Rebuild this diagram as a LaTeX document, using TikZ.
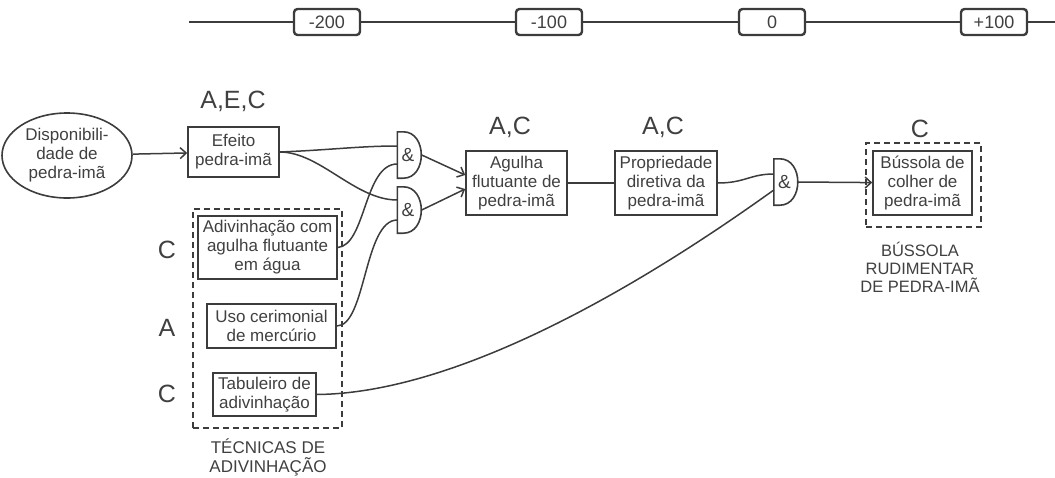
\documentclass[tikz,border=0pt]{standalone}
\usepackage{fontspec}
\setmainfont{Liberation Sans}
\usetikzlibrary{arrows.meta,shapes.geometric,calc}
\definecolor{ink}{RGB}{60,60,60}
\definecolor{txt}{RGB}{64,64,64}
\begin{document}
\begin{tikzpicture}[x=1pt,y=-1pt,
  every node/.style={text=txt},
  box/.style={draw=ink,line width=1.6pt,inner sep=0pt,align=center,font=\fontsize{17}{19}\selectfont},
  tick/.style={draw=ink,line width=2.4pt,rounded corners=3.5pt,fill=white,minimum width=66pt,minimum height=26pt,inner sep=0pt,font=\fontsize{18}{20}\selectfont},
  big/.style={font=\fontsize{25}{28}\selectfont,inner sep=0pt},
  grp/.style={draw=ink,line width=1.6pt,dash pattern=on 6pt off 4pt,inner sep=0pt},
  capt/.style={align=center,inner sep=0pt},
  wire/.style={draw=ink,line width=1.5pt},
  arr/.style={wire,-{Straight Barb[length=6pt,width=11pt,line width=1.5pt]}},
  gate/.style={minimum width=24pt,minimum height=46pt,inner sep=0pt,font=\fontsize{19}{20}\selectfont},
]
\useasboundingbox (0,0) rectangle (1055,477);

% timeline
\coordinate (tls) at (189,22);
\coordinate (tle) at (1056,22);
\node[tick] (t1) at (327,22) {-200};
\node[tick] (t2) at (549,22) {-100};
\node[tick] (t3) at (772,22) {0};
\node[tick] (t4) at (994,22) {+100};
\draw[wire,line width=1.8pt] (tls) -- (t1) -- (t2) -- (t3) -- (t4) -- (tle);

% groups
\node[grp,minimum width=149pt,minimum height=219pt] (tec) at (267.5,318.5) {};
\node[grp,minimum width=115pt,minimum height=84pt] (bgrp) at (923.5,185) {};

% nodes
\node[box,ellipse,minimum width=130pt,minimum height=85pt] (disp) at (67,155.5) {Disponibili-\\dade de\\pedra-imã};
\node[box,minimum width=91pt,minimum height=50pt] (efeito) at (233.5,152) {Efeito\\pedra-imã};
\node[box,minimum width=139pt,minimum height=63pt] (adiv) at (267.5,247.5) {Adivinhação com\\agulha flutuante\\em água};
\node[box,minimum width=129pt,minimum height=44pt] (uso) at (271.5,326) {Uso cerimonial\\de mercúrio};
\node[box,minimum width=103pt,minimum height=43pt] (tab) at (264.5,394.5) {Tabuleiro de\\adivinhação};
\node[box,minimum width=101pt,minimum height=64pt] (agulha) at (516.5,183) {Agulha\\flutuante de\\pedra-imã};
\node[box,minimum width=102pt,minimum height=64pt] (prop) at (666,183) {Propriedade\\diretiva da\\pedra-imã};
\node[box,minimum width=99pt,minimum height=64pt] (buss) at (922.5,183) {Bússola de\\colher de\\pedra-imã};

% labels
\node[big] (l1) at (233,101) {A,E,C};
\node[big] (l2) at (510,127) {A,C};
\node[big] (l3) at (663,127) {A,C};
\node[big] (l4) at (920,129) {C};
\node[big] (l5) at (167,250) {C};
\node[big] (l6) at (167,328) {A};
\node[big] (l7) at (167,394) {C};
\node[capt,font=\fontsize{17}{19}\selectfont] (ctec) at (268,457) {TÉCNICAS DE\\ADIVINHAÇÃO};
\node[capt,font=\fontsize{16.5}{18}\selectfont] (cbus) at (920,267) {BÚSSOLA\\RUDIMENTAR\\DE PEDRA-IMÃ};

% gates
\node[gate] (g1) at (409.5,155) {\hspace*{-3pt}\&};
\node[gate] (g2) at (409.5,210) {\hspace*{-3pt}\&};
\node[gate] (g3) at (786,182) {\hspace*{-3pt}\&};
\foreach \g in {g1,g2,g3}{
  \draw[wire,line width=1.6pt] (\g.north west) -- ++(6,0) .. controls +(24,0) and +(24,0) .. ($(\g.south west)+(6,0)$) -- (\g.south west) -- cycle;
}

% connectors
\draw[arr] (disp) -- (efeito);
\draw[wire] (efeito.east) .. controls (330,150) and (360,146) .. ($(g1.west)+(0,-9)$);
\draw[wire] (efeito.east) .. controls (320,152) and (355,200) .. ($(g2.west)+(0,-10)$);
\draw[wire] (adiv.east) .. controls (366,245) and (364,164) .. ($(g1.west)+(0,9)$);
\draw[wire] (uso.east) .. controls (366,326) and (364,220) .. ($(g2.west)+(0,10)$);
\draw[arr] (g1.east) -- ($(agulha.west)+(0,-8)$);
\draw[arr] (g2.east) -- ($(agulha.west)+(0,6)$);
\draw[wire] (agulha) -- (prop);
\draw[wire] (prop.east) .. controls (745,183) and (750,174) .. ($(g3.west)+(0,-8)$);
\draw[wire] (tab.east) .. controls (480,393) and (690,250) .. ($(g3.west)+(0,8)$);
\draw[arr] (g3.east) -- (buss);
\end{tikzpicture}
\end{document}
